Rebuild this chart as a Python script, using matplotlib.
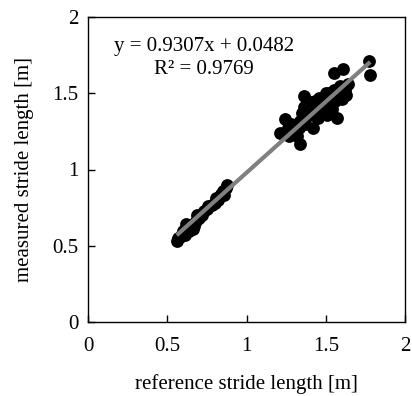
import matplotlib
matplotlib.use("Agg")
import matplotlib.pyplot as plt
import numpy as np

plt.rcParams['font.family'] = ['Liberation Serif', 'DejaVu Serif']

ref_x = [0.56, 0.57, 0.58, 0.59, 0.60, 0.61, 0.62, 0.63, 0.64, 0.65, 0.66, 0.67, 0.68, 0.69,
         0.70, 0.72, 0.73, 0.75, 0.76, 0.78, 0.80, 0.81, 0.82, 0.84, 0.85, 0.87, 0.88, 0.86,
         0.62, 0.66,
         1.21, 1.24, 1.26, 1.27, 1.28, 1.30, 1.31, 1.32, 1.33, 1.34, 1.34, 1.35, 1.36, 1.36,
         1.37, 1.38, 1.39, 1.40, 1.41, 1.42, 1.42, 1.43, 1.44, 1.45, 1.46, 1.47, 1.48, 1.49,
         1.50, 1.50, 1.51, 1.52, 1.53, 1.54, 1.55, 1.55, 1.56, 1.57, 1.58, 1.59, 1.60, 1.61,
         1.62, 1.63, 1.64, 1.77, 1.78, 1.40, 1.46, 1.52, 1.38]
meas_y = [0.53, 0.55, 0.56, 0.58, 0.60, 0.57, 0.59, 0.61, 0.60, 0.62, 0.64, 0.63, 0.66, 0.70,
          0.68, 0.70, 0.73, 0.74, 0.76, 0.77, 0.78, 0.81, 0.80, 0.84, 0.86, 0.88, 0.90, 0.83,
          0.64, 0.61,
          1.24, 1.33, 1.27, 1.22, 1.30, 1.25, 1.29, 1.22, 1.27, 1.17, 1.32, 1.37, 1.48, 1.41,
          1.30, 1.35, 1.44, 1.38, 1.42, 1.27, 1.36, 1.45, 1.40, 1.34, 1.47, 1.42, 1.38, 1.46,
          1.43, 1.50, 1.36, 1.44, 1.48, 1.40, 1.52, 1.63, 1.45, 1.34, 1.50, 1.55, 1.46, 1.66,
          1.52, 1.49, 1.56, 1.71, 1.62, 1.44, 1.40, 1.50, 1.40]
slope = 0.9307
intercept = 0.0482
r2 = 0.9769
ticks = [0, 0.5, 1, 1.5, 2]
tick_labels = ['0', '0.5', '1', '1.5', '2']

fig = plt.figure(figsize=(4.12, 3.96), dpi=100)
ax = fig.add_axes([88/412, 74/396, 317/412, 305/396])
ax.scatter(ref_x, meas_y, s=85, color='black', zorder=2, linewidths=0)
xl = np.array([min(ref_x), max(ref_x)])
ax.plot(xl, slope*xl + intercept, color='#808080', lw=3, zorder=3, solid_capstyle='butt')
ax.set_xlim(0, 2)
ax.set_ylim(0, 2)
ax.set_xticks(ticks)
ax.set_xticklabels(tick_labels)
ax.set_yticks(ticks)
ax.set_yticklabels(tick_labels)
ax.tick_params(direction='in', length=5, width=1, labelsize=15)
ax.tick_params(axis='x', pad=11)
ax.tick_params(axis='y', pad=7)
for sp in ax.spines.values():
    sp.set_linewidth(1)
ax.set_xlabel('reference stride length [m]', fontsize=15, labelpad=13)
ax.set_ylabel('measured stride length [m]', fontsize=15, labelpad=13)
ax.text(0.73, 1.73, f'y = {slope}x + {intercept}\nR² = {r2}', ha='center', va='center',
        fontsize=15, multialignment='center', linespacing=1.3)
fig.savefig('out.png', dpi=100)
